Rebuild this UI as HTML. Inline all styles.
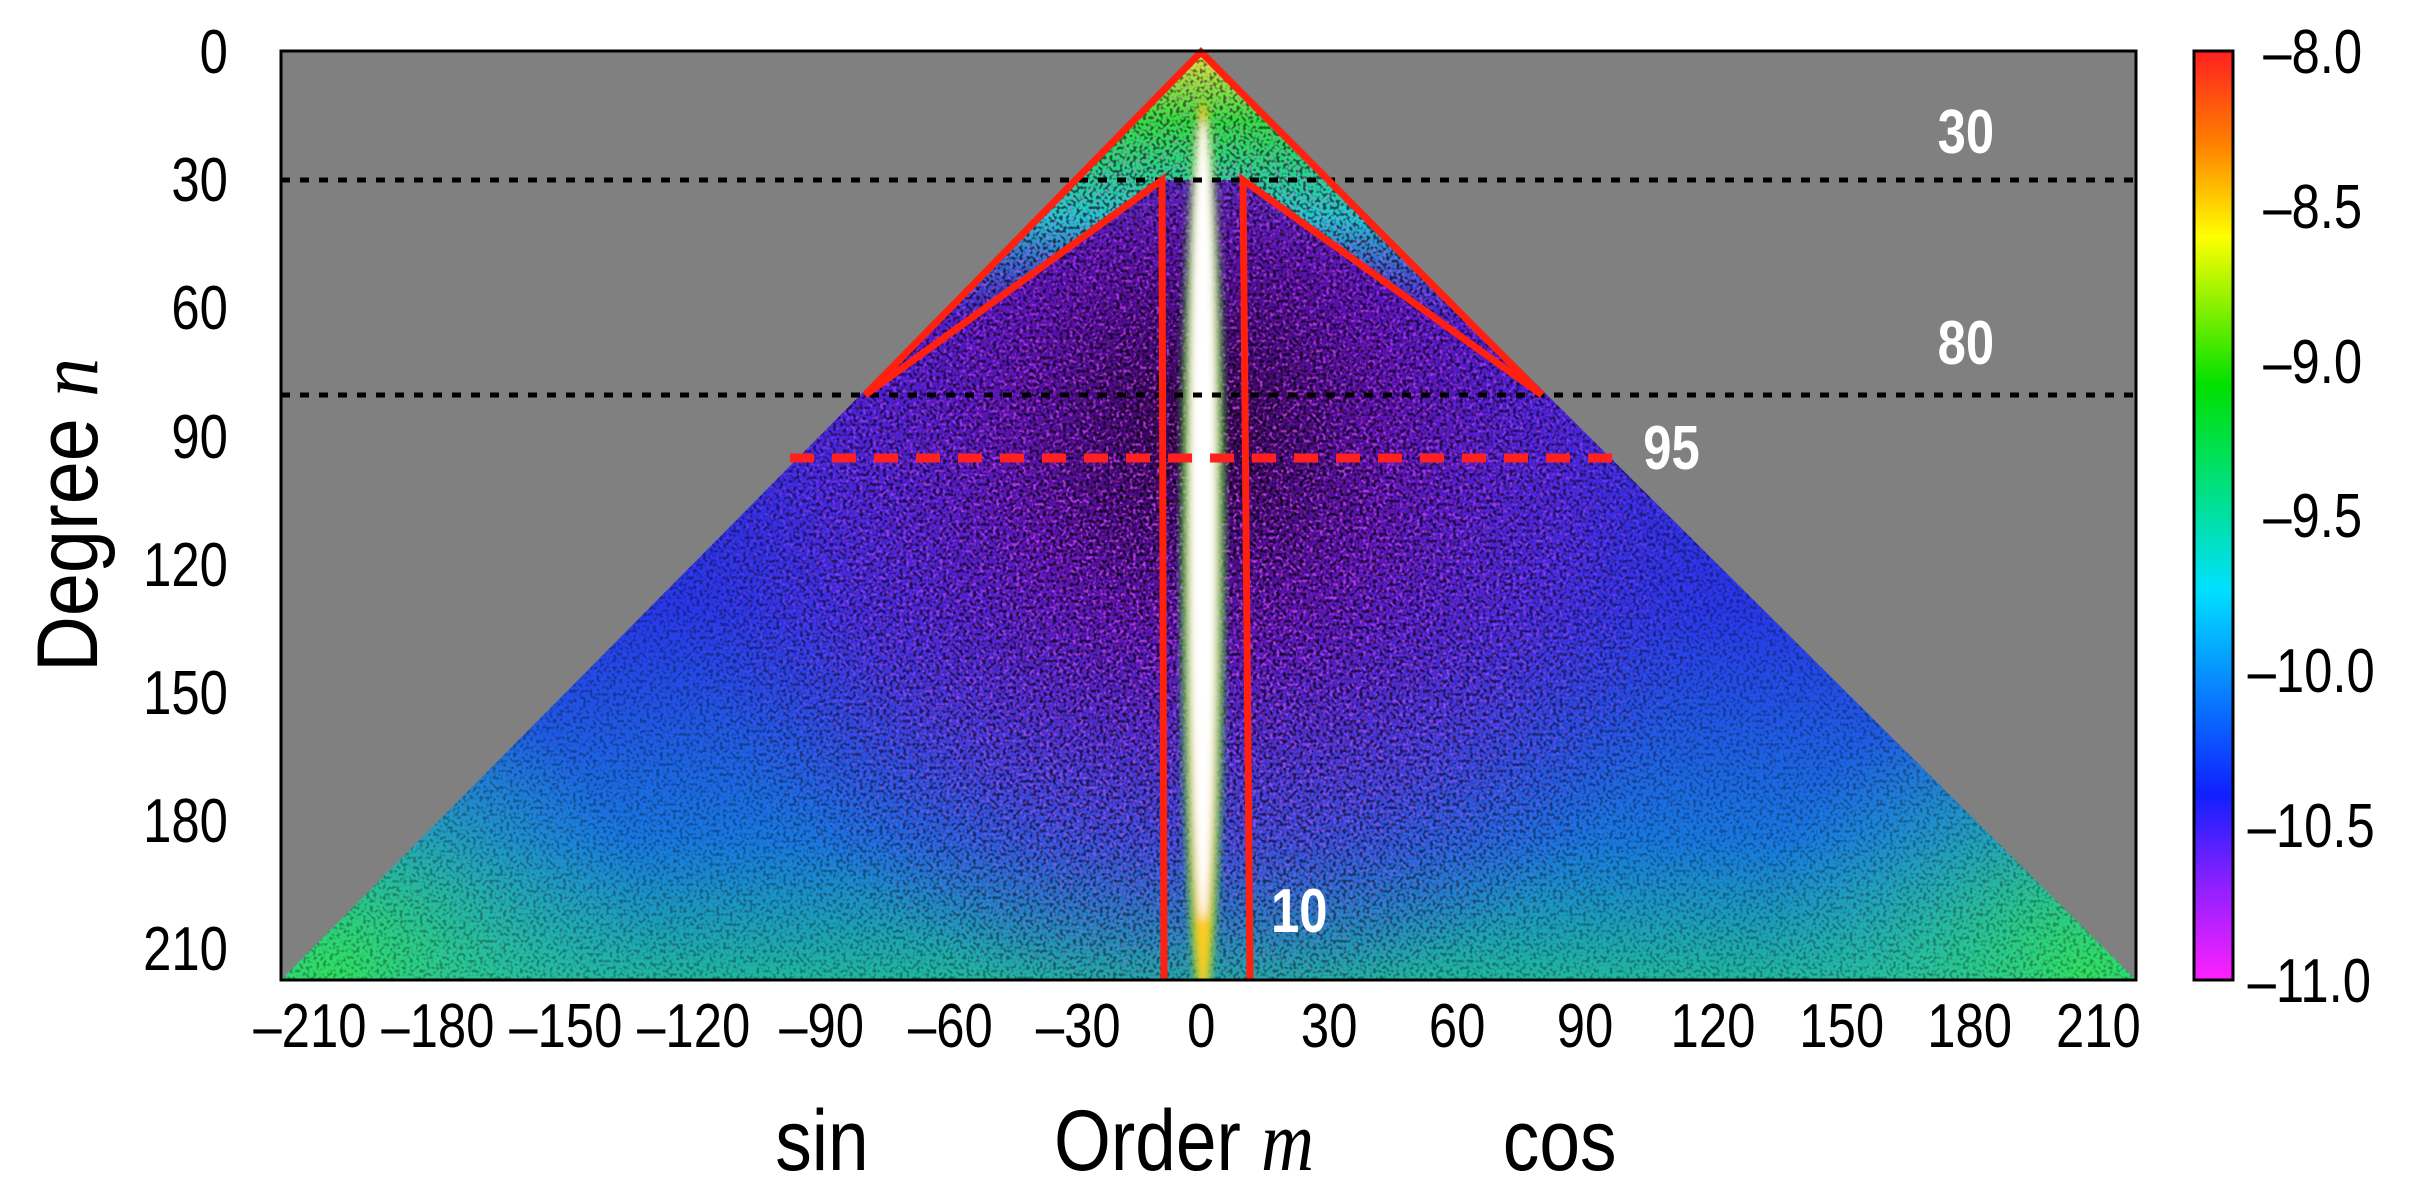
<!DOCTYPE html>
<html><head><meta charset="utf-8"><style>
html,body{margin:0;padding:0;background:#fff;width:2419px;height:1197px;overflow:hidden}
svg text{font-family:"Liberation Sans",sans-serif}
</style></head><body>
<svg width="2419" height="1197" viewBox="0 0 2419 1197" xmlns="http://www.w3.org/2000/svg">
<defs>
<clipPath id="tri"><polygon points="1201,51 281,980 2136,980"/></clipPath>
<linearGradient id="vert" x1="0" y1="51" x2="0" y2="980" gradientUnits="userSpaceOnUse">
<stop offset="0" stop-color="#20d040"/><stop offset="0.1" stop-color="#10b0c0"/><stop offset="0.25" stop-color="#3020e0"/>
<stop offset="0.6" stop-color="#2838e8"/><stop offset="0.85" stop-color="#1878e0"/><stop offset="1" stop-color="#20b8a0"/></linearGradient>
<radialGradient id="dark" cx="1201" cy="430" r="540" gradientUnits="userSpaceOnUse" gradientTransform="translate(1201 430) scale(1 1.1) translate(-1201 -430)">
<stop offset="0" stop-color="#300048" stop-opacity="1"/><stop offset="0.35" stop-color="#6010b0" stop-opacity="0.9"/>
<stop offset="0.7" stop-color="#6020d8" stop-opacity="0.5"/><stop offset="1" stop-color="#3030e0" stop-opacity="0"/></radialGradient>
<radialGradient id="gl" cx="330" cy="980" r="330" gradientUnits="userSpaceOnUse"><stop offset="0" stop-color="#30e060"/><stop offset="1" stop-color="#30c0c0" stop-opacity="0"/></radialGradient>
<radialGradient id="gr" cx="2090" cy="980" r="330" gradientUnits="userSpaceOnUse"><stop offset="0" stop-color="#30e060"/><stop offset="1" stop-color="#30c0c0" stop-opacity="0"/></radialGradient>
<radialGradient id="mm" cx="1201" cy="500" r="560" gradientUnits="userSpaceOnUse"><stop offset="0" stop-color="#fff"/><stop offset="0.6" stop-color="#888"/><stop offset="1" stop-color="#000"/></radialGradient>
<mask id="mk"><rect x="281" y="51" width="1855" height="929" fill="url(#mm)"/></mask>
<linearGradient id="cb" x1="0" y1="0" x2="0" y2="1">
<stop offset="0" stop-color="#ff2020"/><stop offset="0.1" stop-color="#ff8000"/><stop offset="0.2" stop-color="#ffff00"/>
<stop offset="0.36" stop-color="#00e000"/><stop offset="0.58" stop-color="#00e0ff"/><stop offset="0.8" stop-color="#1020ff"/>
<stop offset="0.9" stop-color="#9020ff"/><stop offset="1" stop-color="#ff20ff"/></linearGradient>
<linearGradient id="top" x1="0" y1="51" x2="0" y2="330" gradientUnits="userSpaceOnUse">
<stop offset="0" stop-color="#f0e040"/><stop offset="0.25" stop-color="#30e040"/><stop offset="0.6" stop-color="#20c8d0"/><stop offset="1" stop-color="#2060e0" stop-opacity="0"/></linearGradient>
<filter id="n" x="0" y="0" width="1" height="1"><feTurbulence type="fractalNoise" baseFrequency="0.3" numOctaves="1" seed="3"/>
<feColorMatrix values="0 0 0 0 0  0 0 0 0 0  0 0 0 0 0  0 0 0 -5 2.6"/></filter>
<filter id="n2" x="0" y="0" width="1" height="1"><feTurbulence type="fractalNoise" baseFrequency="0.3" numOctaves="1" seed="11"/>
<feColorMatrix values="0 0 0 0 1  0 0 0 0 0.1  0 0 0 0 1  0 0 0 -5 2.5"/></filter>
<filter id="bl"><feGaussianBlur stdDeviation="4"/></filter>
</defs>
<rect x="281" y="51" width="1855" height="929" fill="#808080"/>
<g clip-path="url(#tri)">
<rect x="281" y="51" width="1855" height="929" fill="url(#vert)"/>
<rect x="281" y="51" width="1855" height="929" fill="url(#dark)"/>
<rect x="281" y="51" width="1855" height="929" fill="url(#gl)"/>
<rect x="281" y="51" width="1855" height="929" fill="url(#gr)"/>
<polygon points="1201,51 865,395 1162,180 1243,180 1542,395" fill="url(#top)"/>
<rect x="281" y="51" width="1855" height="929" filter="url(#n2)" opacity="0.7" mask="url(#mk)"/>
<rect x="281" y="51" width="1855" height="929" filter="url(#n)" opacity="0.75" mask="url(#mk)"/>
<rect x="281" y="51" width="1855" height="929" filter="url(#n)" opacity="0.3"/>
<g filter="url(#bl)">
<ellipse cx="1203" cy="560" rx="22" ry="450" fill="#30e030" opacity="0.8"/>
<ellipse cx="1203" cy="550" rx="15" ry="450" fill="#ffcc20"/>
<ellipse cx="1203" cy="520" rx="13" ry="400" fill="#ffffff"/>
</g>
</g>
<g stroke="#000" stroke-width="5" stroke-dasharray="9 10">
<line x1="281" y1="180" x2="2136" y2="180"/><line x1="281" y1="395" x2="2136" y2="395"/></g>
<line x1="790" y1="458" x2="1620" y2="458" stroke="#ff2020" stroke-width="9" stroke-dasharray="24 18"/>
<g fill="none" stroke="#ff2010" stroke-width="7" stroke-linejoin="miter">
<polyline points="865,395 1201,52 1542,395"/>
<polyline points="865,395 1162,180 1164,980"/>
<polyline points="1542,395 1243,180 1250,980"/></g>
<g fill="#fff" font-weight="bold" font-size="62" transform="scale(0.82,1)">
<text x="2363" y="153">30</text><text x="2363" y="364">80</text><text x="2004" y="469">95</text><text x="1550" y="932">10</text></g>
<rect x="281" y="51" width="1855" height="929" fill="none" stroke="#000" stroke-width="3"/>
<g font-size="62" fill="#000" text-anchor="end" transform="scale(0.82,1)">
<text x="278" y="73">0</text><text x="278" y="201">30</text><text x="278" y="329">60</text><text x="278" y="458">90</text>
<text x="278" y="586">120</text><text x="278" y="714">150</text><text x="278" y="842">180</text><text x="278" y="970">210</text></g>
<g font-size="62" fill="#000" text-anchor="middle" transform="scale(0.82,1)">
<text x="378" y="1047">–210</text><text x="534" y="1047">–180</text><text x="690" y="1047">–150</text><text x="846" y="1047">–120</text>
<text x="1002" y="1047">–90</text><text x="1159" y="1047">–60</text><text x="1315" y="1047">–30</text><text x="1465" y="1047">0</text>
<text x="1621" y="1047">30</text><text x="1777" y="1047">60</text><text x="1933" y="1047">90</text><text x="2089" y="1047">120</text>
<text x="2246" y="1047">150</text><text x="2402" y="1047">180</text><text x="2559" y="1047">210</text></g>
<text x="0" y="0" font-size="86" transform="translate(97 515) rotate(-90) scale(0.9,1)" text-anchor="middle">Degree <tspan font-family="Liberation Serif" font-style="italic">n</tspan></text>
<g font-size="86" transform="scale(0.85,1)"><text x="912" y="1170">sin</text><text x="1240" y="1170">Order <tspan font-family="Liberation Serif" font-style="italic">m</tspan></text><text x="1768" y="1170">cos</text></g>
<rect x="2194" y="51" width="39" height="929" fill="url(#cb)" stroke="#000" stroke-width="3"/>
<g font-size="62" fill="#000" transform="scale(0.82,1)">
<text x="2760" y="73">–8.0</text><text x="2760" y="228">–8.5</text><text x="2760" y="383">–9.0</text><text x="2760" y="537">–9.5</text>
<text x="2741" y="692">–10.0</text><text x="2741" y="847">–10.5</text><text x="2741" y="1002">–11.0</text></g>
</svg>
</body></html>
